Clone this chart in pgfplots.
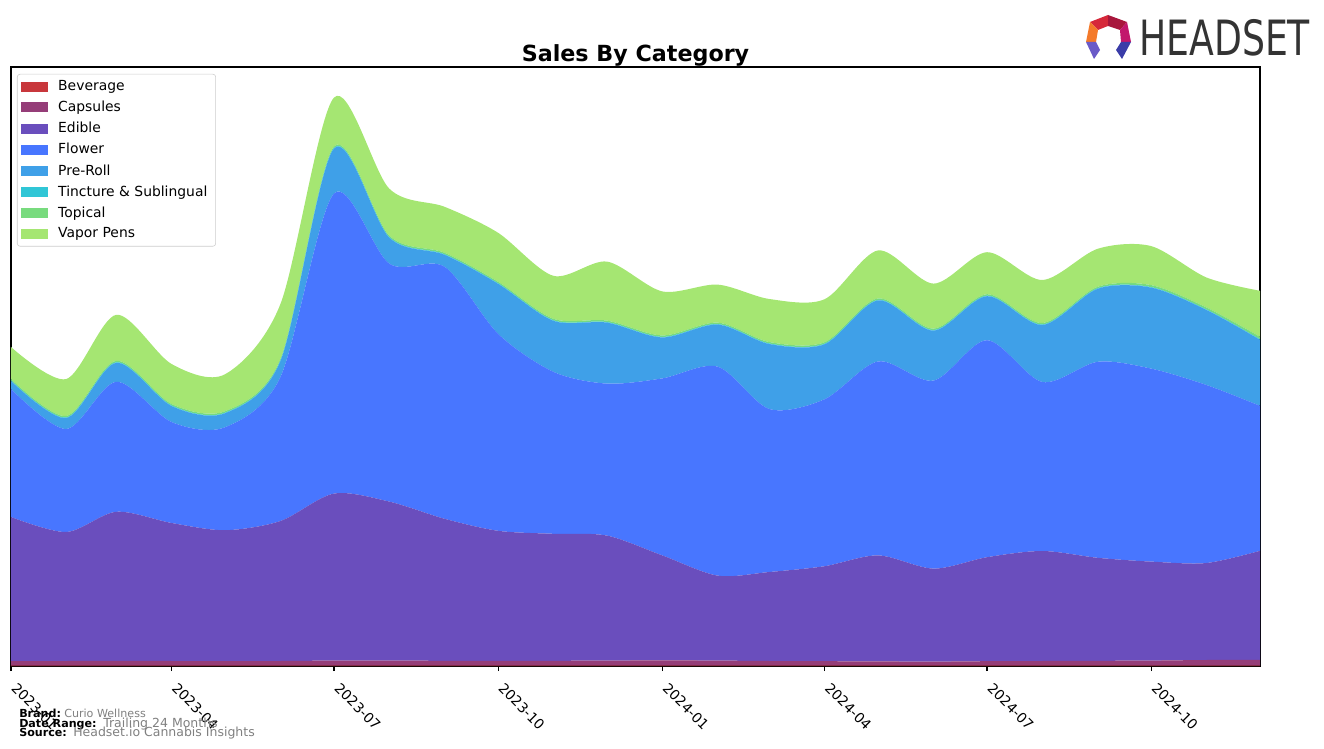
\documentclass[border=0pt]{standalone}
\usepackage{pgfplots}
\usepackage{pgfplotstable}
\pgfplotsset{compat=1.18}
\usepackage{fontspec}
\setmainfont{DejaVu Sans}
\setsansfont{DejaVu Sans}

\definecolor{cBev}{HTML}{C8373C}
\definecolor{cCap}{HTML}{953D78}
\definecolor{cEdi}{HTML}{6A4EBD}
\definecolor{cFlo}{HTML}{4876FF}
\definecolor{cPre}{HTML}{3FA0E8}
\definecolor{cTin}{HTML}{30C6D6}
\definecolor{cTop}{HTML}{78DB7E}
\definecolor{cVap}{HTML}{A5E672}
\definecolor{logotext}{HTML}{333333}

% x = days since 2023-01-01, values in arbitrary units
\pgfplotstableread{
d    bev cap edi flo pre tin top vap
0    0.4 4.6 144 128 8  0.5 1.5 32
31   0.4 4.6 129 103 11 0.5 1.5 37
59   0.4 4.8 149 130 19 0.5 1.5 46
90   0.4 4.6 138 101 16 0.5 1.5 40
120  0.4 4.4 131 103 14 0.5 1.5 37
151  0.4 4.6 140 144 16 0.5 1.5 55
181  0.4 5.0 167 300 45 0.5 1.5 49
212  0.4 5.0 159 238 26 0.5 1.5 47
243  0.4 4.8 142 252 12 0.5 1.5 46
273  0.4 4.8 130 197 50 0.5 1.5 49
304  0.4 4.8 127 162 51 0.5 1.5 43
334  0.4 5.0 125 152 61 0.5 1.5 59
365  0.4 5.2 105 177 41 0.5 1.5 44
396  0.4 5.0 85  209 42 0.5 1.5 38
425  0.4 4.6 89  163 65 0.5 1.5 43
456  0.4 4.4 95  167 55 0.5 1.5 43
486  0.4 4.2 106 194 61 0.5 1.5 48
517  0.4 4.0 93  188 50 0.5 1.5 45
547  0.4 4.4 104 217 44 0.5 1.5 42
578  0.4 4.6 110 169 57 0.5 1.5 43
609  0.4 4.8 103 196 73 0.5 1.5 38
639  0.4 5.0 99  193 81 0.5 2.0 39
670  0.4 5.6 97  178 75 0.5 2.0 30
700  0.4 5.8 109 145 66 0.5 2.5 46
}\sales

\begin{document}
\begin{tikzpicture}[x=0.72pt, y=0.72pt]
\path[use as bounding box] (-11,-82) rectangle (1313,666);
\begin{axis}[
    at={(0,0)}, anchor=south west,
    scale only axis,
    width=899.28pt, height=431.28pt,
    xmin=0, xmax=700, ymin=0, ymax=599,
    stack plots=y,
    axis line style={line width=0.8pt},
    xtick={0,90,181,273,365,456,547,639},
    xticklabels={2023-01,2023-04,2023-07,2023-10,2024-01,2024-04,2024-07,2024-10},
    xticklabel style={rotate=-45, anchor=north west, font=\fontsize{10}{12}\selectfont,
        inner sep=1pt, xshift=8pt, yshift=-1pt},
    ytick=\empty,
    tick align=outside,
    major tick length=3.6pt,
    tick style={black, line width=0.8pt},
    xtick pos=bottom,
    legend cell align=left,
    legend image code/.code={\fill[#1, sharp corners] (2pt,-3.6pt) rectangle (21.5pt,3.6pt);},
    legend style={at={(0,1)}, anchor=north west, xshift=4.3pt, yshift=-5pt,
        draw=black!20, rounded corners=2pt, fill=white,
        font=\fontsize{10}{12}\selectfont, row sep=2.1pt, inner sep=2.5pt,
        nodes={inner xsep=3.5pt},
        /tikz/every odd column/.append style={column sep=4pt}},
]
\addplot[fill=cBev, draw=none, smooth] table[x=d, y=bev] {\sales} \closedcycle;
\addlegendentry{Beverage}
\addplot[fill=cCap, draw=none, smooth] table[x=d, y=cap] {\sales} \closedcycle;
\addlegendentry{Capsules}
\addplot[fill=cEdi, draw=none, smooth] table[x=d, y=edi] {\sales} \closedcycle;
\addlegendentry{Edible}
\addplot[fill=cFlo, draw=none, smooth] table[x=d, y=flo] {\sales} \closedcycle;
\addlegendentry{Flower}
\addplot[fill=cPre, draw=none, smooth] table[x=d, y=pre] {\sales} \closedcycle;
\addlegendentry{Pre-Roll}
\addplot[fill=cTin, draw=none, smooth] table[x=d, y=tin] {\sales} \closedcycle;
\addlegendentry{Tincture \& Sublingual}
\addplot[fill=cTop, draw=none, smooth] table[x=d, y=top] {\sales} \closedcycle;
\addlegendentry{Topical}
\addplot[fill=cVap, draw=none, smooth] table[x=d, y=vap] {\sales} \closedcycle;
\addlegendentry{Vapor Pens}
\end{axis}

% title
\node[anchor=base, font=\bfseries\fontsize{16}{19}\selectfont] at (624.5,604) {Sales By Category};

% footer
\node[anchor=base west, inner sep=0pt, font=\bfseries\fontsize{8}{9}\selectfont] at (8,-51) {Brand:};
\node[anchor=base west, inner sep=0pt, text=gray, font=\fontsize{8}{9}\selectfont] at (53,-51) {Curio Wellness};
\node[anchor=base west, inner sep=0pt, font=\bfseries\fontsize{8}{9}\selectfont] at (8,-61) {Date Range:};
\node[anchor=base west, inner sep=0pt, text=gray, font=\fontsize{9}{10}\selectfont] at (92,-61) {Trailing 24 Months};
\node[anchor=base west, inner sep=0pt, font=\bfseries\fontsize{8}{9}\selectfont] at (8,-70) {Source:};
\node[anchor=base west, inner sep=0pt, text=gray, font=\fontsize{9}{10}\selectfont] at (62,-70) {Headset.io Cannabis Insights};

% logo (image pixel (x,y) -> (x-11, 666-y))
\fill[fill={rgb,255:red,214;green,40;blue,58}] (1079,644) -- (1097,651) -- (1097,640) -- (1087,636) -- cycle;
\fill[fill={rgb,255:red,168;green,22;blue,60}] (1097,651) -- (1116,644) -- (1109,636) -- (1097,640) -- cycle;
\fill[fill={rgb,255:red,244;green,122;blue,42}] (1075,624) -- (1079,644) -- (1087,636) -- (1085,624) -- cycle;
\fill[fill={rgb,255:red,194;green,23;blue,108}] (1116,644) -- (1120,624) -- (1110,624) -- (1109,636) -- cycle;
\fill[fill={rgb,255:red,106;green,90;blue,200}] (1075,624) -- (1085,624) -- (1089,616) -- (1083,607) -- cycle;
\fill[fill={rgb,255:red,58;green,60;blue,168}] (1120,624) -- (1110,624) -- (1105,616) -- (1111,607) -- cycle;
\node[anchor=base west, inner sep=0pt, text=logotext] at (1128,610)
  {\scalebox{0.745}[1]{\fontsize{35}{36}\selectfont HEADSET}};
\end{tikzpicture}
\end{document}
